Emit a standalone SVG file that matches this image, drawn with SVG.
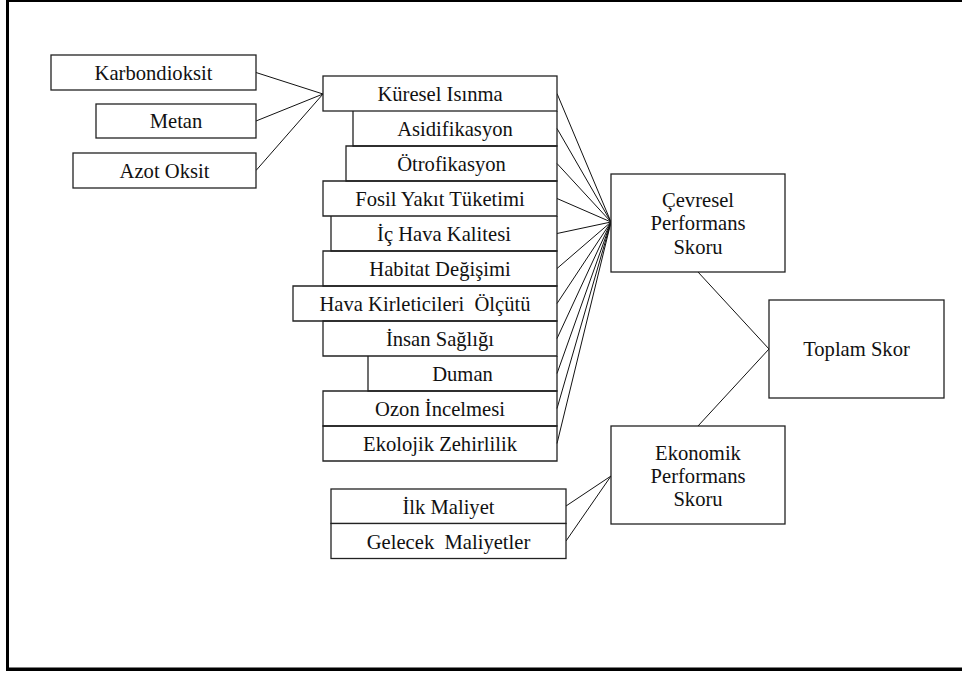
<svg xmlns="http://www.w3.org/2000/svg" width="962" height="675" viewBox="0 0 962 675">
  <style>
    .box { fill: #fff; stroke: #222; stroke-width: 1.3; }
    .edge { fill: none; stroke: #222; stroke-width: 1.3; }
    .conn line { stroke: #111; stroke-width: 1; }
    text { font-family: 'Liberation Serif', 'Times New Roman', serif; font-size: 20.6px; fill: #111; text-anchor: middle; }
  </style>

  <rect x="0" y="0" width="962" height="675" fill="#fff"/>
  <!-- page frame (open on the right) -->
  <g id="frame" fill="#000">
    <rect x="6" y="0" width="956" height="2"/>
    <rect x="6" y="0" width="3" height="671"/>
    <rect x="6" y="667.5" width="956" height="3.5"/>
  </g>

  <!-- connectors -->
  <g id="connectors" class="conn">
    <line x1="256" y1="72.5" x2="323" y2="94"/>
    <line x1="256" y1="121" x2="323" y2="94"/>
    <line x1="256" y1="170.5" x2="323" y2="94"/>

    <line x1="557" y1="93.5" x2="611" y2="222"/>
    <line x1="557" y1="128.5" x2="611" y2="222"/>
    <line x1="557" y1="163.5" x2="611" y2="222"/>
    <line x1="557" y1="198.5" x2="611" y2="222"/>
    <line x1="557" y1="233.5" x2="611" y2="222"/>
    <line x1="557" y1="268.5" x2="611" y2="222"/>
    <line x1="557" y1="303.5" x2="611" y2="222"/>
    <line x1="557" y1="338.5" x2="611" y2="222"/>
    <line x1="557" y1="373.5" x2="611" y2="222"/>
    <line x1="557" y1="408.5" x2="611" y2="222"/>
    <line x1="557" y1="443.5" x2="611" y2="222"/>

    <line x1="698" y1="272" x2="769" y2="349"/>
    <line x1="769" y1="349" x2="698" y2="426"/>

    <line x1="566" y1="506" x2="611" y2="476"/>
    <line x1="566" y1="541" x2="611" y2="476"/>
  </g>

  <!-- gas inputs -->
  <g id="karbondioksit">
    <rect class="box" x="51" y="55" width="205" height="35"/>
    <text x="153.5" y="80">Karbondioksit</text>
  </g>
  <g id="metan">
    <rect class="box" x="96" y="104" width="160" height="34"/>
    <text x="176" y="128">Metan</text>
  </g>
  <g id="azot-oksit">
    <rect class="box" x="73" y="153" width="183" height="35"/>
    <text x="164.5" y="178">Azot Oksit</text>
  </g>

  <!-- environmental indicators stack -->
  <g id="kuresel-isinma">
    <rect class="box" x="323" y="76" width="234" height="35"/>
    <text x="440" y="101">Küresel Isınma</text>
  </g>
  <g id="asidifikasyon">
    <path class="edge" d="M353 111 V146 H557 V111"/>
    <text x="455" y="136">Asidifikasyon</text>
  </g>
  <g id="otrofikasyon">
    <path class="edge" d="M557 146 H346 V181 H557 Z"/>
    <text x="451.5" y="171">Ötrofikasyon</text>
  </g>
  <g id="fosil-yakit">
    <path class="edge" d="M557 181 H323 V216 H557 Z"/>
    <text x="440" y="206">Fosil Yakıt Tüketimi</text>
  </g>
  <g id="ic-hava">
    <path class="edge" d="M331 216 V251 H557 V216"/>
    <text x="444" y="241">İç Hava Kalitesi</text>
  </g>
  <g id="habitat">
    <path class="edge" d="M557 251 H323 V286 H557 Z"/>
    <text x="440" y="276">Habitat Değişimi</text>
  </g>
  <g id="hava-kirleticileri">
    <path class="edge" d="M557 286 H293 V321 H557 Z"/>
    <text x="425" y="311" xml:space="preserve">Hava Kirleticileri  Ölçütü</text>
  </g>
  <g id="insan-sagligi">
    <path class="edge" d="M557 321 H323 V356 H557 Z"/>
    <text x="440" y="346">İnsan Sağlığı</text>
  </g>
  <g id="duman">
    <path class="edge" d="M368 356 V391 H557 V356"/>
    <text x="462.5" y="381">Duman</text>
  </g>
  <g id="ozon">
    <path class="edge" d="M557 391 H323 V426 H557 Z"/>
    <text x="440" y="416">Ozon İncelmesi</text>
  </g>
  <g id="ekolojik">
    <path class="edge" d="M557 426 H323 V461 H557 Z"/>
    <text x="440" y="451">Ekolojik Zehirlilik</text>
  </g>

  <!-- cost items -->
  <g id="ilk-maliyet">
    <rect class="box" x="331" y="489" width="235" height="34.5"/>
    <text x="448.5" y="514">İlk Maliyet</text>
  </g>
  <g id="gelecek-maliyetler">
    <rect class="box" x="331" y="523.5" width="235" height="35"/>
    <text x="448.5" y="549" xml:space="preserve">Gelecek  Maliyetler</text>
  </g>

  <!-- scores -->
  <g id="cevresel">
    <rect class="box" x="611" y="174" width="174" height="98"/>
    <text x="698" y="207">Çevresel</text>
    <text x="698" y="230">Performans</text>
    <text x="698" y="253.5">Skoru</text>
  </g>
  <g id="ekonomik">
    <rect class="box" x="611" y="426" width="174" height="98"/>
    <text x="698" y="459.5">Ekonomik</text>
    <text x="698" y="483">Performans</text>
    <text x="698" y="506">Skoru</text>
  </g>
  <g id="toplam">
    <rect class="box" x="769" y="300" width="175" height="98"/>
    <text x="856.5" y="356">Toplam Skor</text>
  </g>
</svg>
